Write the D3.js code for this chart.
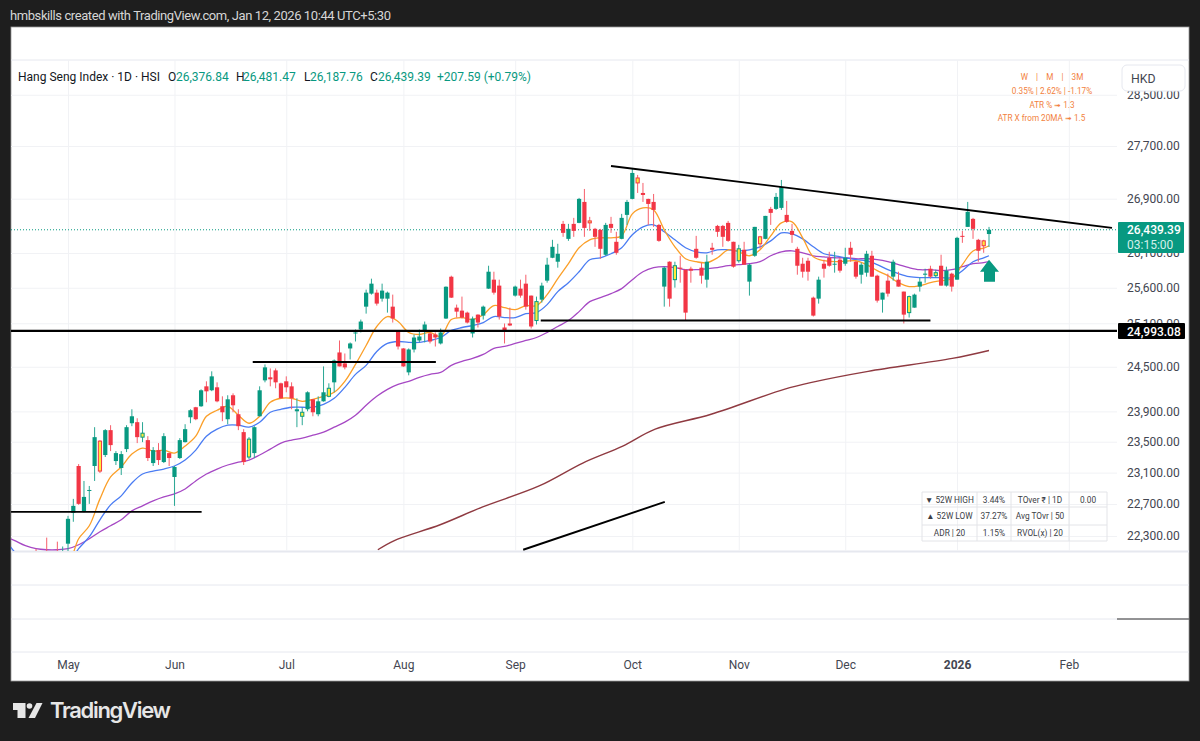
<!DOCTYPE html>
<html>
<head>
<meta charset="utf-8">
<script src="https://cdn.jsdelivr.net/npm/d3@7"></script>
<style>
    html, body { margin: 0; padding: 0; background: #1e1e1e; }
    svg { display: block; }
    text { font-family: Roboto, "Noto Sans", sans-serif; }
</style>
</head>
<body>
<div id="chart"></div>
<script>
'use strict';

// first bar is 10 sessions before May, they sit mostly under the pane
const firstBar = -10;

const opens = [
    21980,21920,21970,21930,21990,21960,22030,21990,22050,21990,
    22205,22589,23185,22602,22866,23185,23508,23327,23652,23249,
    23159,23404,23743,23757,23560,23521,23223,23391,23236,23352,
    23044,23288,23495,23822,23955,23968,24235,24182,24222,23968,
    23796,24115,23862,23626,23301,23352,23835,24316,24357,24451,
    24276,24303,24235,23901,23835,23928,24061,23862,24034,24101,
    24289,24696,24546,24751,24958,25013,25333,25517,25531,25446,
    25446,25333,24985,24751,24424,24737,24861,24985,24958,24944,
    24820,25166,25758,25319,25277,25249,24958,25221,25207,25588,
    25716,25631,25041,25097,25489,25588,25659,25489,25138,25432,
    25702,26031,25974,26526,26306,26526,26541,26852,26570,26453,
    26438,26075,26526,26263,26306,26659,26897,27212,26986,26897,
    26852,26511,25617,25974,25716,25888,25859,25873,26161,25888,
    25716,26176,26496,26496,26541,26263,25988,26147,25688,26060,
    26336,26306,26748,26748,26763,26659,26423,26161,25945,25988,
    25460,25446,25945,26031,25931,26003,25945,26176,25974,25787,
    25816,26060,25773,25432,25702,25759,25716,25546,25249,25319,
    25617,25787,25873,25773,25916,25631,25802,25716,26350,26482,
    26600,26292,26277,26376.84
];
const highs = [
    22060,22010,22080,22050,22140,22060,22280,22090,22230,22170,
    22551,22765,23210,22993,22929,23691,23520,23665,23717,23378,
    23378,23717,23928,23809,23757,23573,23430,23482,23612,23360,
    23185,23547,23730,23928,23960,24195,24303,24438,24289,24101,
    24115,24141,23928,23665,23560,23704,24235,24532,24478,24478,
    24285,24370,24289,24075,23955,24168,24065,24101,24505,24276,
    24600,24861,24682,24834,25013,25152,25574,25730,25574,25659,
    25546,25503,25000,24755,24751,24944,25013,25124,24972,24972,
    25027,25620,25773,25362,25475,25263,25194,25225,25348,25916,
    25830,25716,25097,25319,25631,25716,25787,25490,25475,25673,
    26031,26292,26234,26570,26526,26615,26912,27046,26630,26467,
    26453,26541,26630,26409,26674,26882,27364,27258,27137,26900,
    26971,26526,25902,25980,25974,26060,25865,25902,26350,25960,
    26075,26248,26511,26511,26570,26265,26219,26263,25945,26482,
    26350,26645,26778,26986,27182,26867,26526,26190,26031,26031,
    25475,25759,26003,26118,26118,26031,26176,26263,25988,25960,
    26132,26132,25787,25531,25802,26003,25830,25546,25489,25517,
    25745,25873,25916,25859,26075,25902,25816,26336,26423,26852,
    26615,26306,26292,26481.47
];
const lows = [
    21880,21850,21900,21830,21930,21900,21950,21920,21980,21900,
    22100,22477,22690,22595,22702,22993,23095,23301,23378,23198,
    23069,23365,23704,23482,23495,23249,23185,23198,23223,23185,
    22677,23275,23490,23743,23783,23960,24021,24170,24021,23770,
    23730,23888,23652,23198,23275,23288,23835,24289,24235,24209,
    24070,24155,23928,23691,23717,23901,23835,23835,24030,24088,
    24155,24505,24465,24600,24847,24972,25235,25503,25348,25404,
    25249,25110,24737,24500,24384,24696,24834,24834,24820,24778,
    24806,25160,25455,25180,25166,25097,24902,25041,25152,25584,
    25503,25152,24820,25060,25475,25460,25291,25027,25083,25390,
    25673,26025,25888,26336,26277,26336,26536,26336,26423,26190,
    26017,26060,26394,26075,26300,26511,26890,26986,26852,26511,
    26482,26263,25333,25333,25602,25673,25138,25673,26017,25659,
    25602,26075,26336,26190,26263,25888,25960,25931,25489,26045,
    26161,26300,26511,26733,26733,26541,26248,25787,25745,25702,
    25194,25376,25745,25902,25816,25816,25916,25974,25730,25659,
    25759,25759,25390,25249,25475,25702,25617,25097,25180,25319,
    25546,25673,25730,25745,25631,25617,25546,25716,26248,26482,
    26306,25974,26103,26187.76
];
const closes = [
    21920,21970,21930,21880,21960,22010,21990,22040,22020,22100,
    22514,22677,22702,22790,22878,23560,23120,23652,23456,23352,
    23339,23691,23835,23560,23612,23288,23391,23262,23573,23288,
    23172,23521,23665,23915,23796,24182,24168,24370,24034,23888,
    24061,23981,23704,23236,23534,23691,24182,24492,24330,24289,
    24075,24222,24075,23928,23888,24155,23888,24034,24155,24209,
    24586,24505,24492,24820,24972,25124,25531,25659,25376,25560,
    25531,25166,24778,24505,24737,24902,24916,25083,24847,24902,
    24972,25615,25460,25263,25180,25110,25166,25110,25333,25830,
    25531,25194,25000,25069,25617,25489,25333,25055,25404,25631,
    25931,26190,26089,26394,26453,26423,26897,26467,26541,26336,
    26161,26511,26467,26103,26615,26852,27288,27137,26956,26822,
    26733,26277,25888,25446,25916,25873,25249,25845,26031,25773,
    25974,26147,26409,26336,26277,25902,26161,25931,25931,26482,
    26234,26644,26689,26927,27076,26556,26365,25916,25830,25830,
    25207,25716,25873,25916,25945,25845,26031,26075,25759,25931,
    26089,25759,25418,25531,25517,25974,25617,25221,25475,25503,
    25688,25802,25759,25816,25631,25845,25617,26321,26336,26704,
    26453,26132,26205,26439.39
];
// bars the script paints yellow
const insideBars = [6, 14, 34, 44, 49, 88, 98, 107, 114, 126, 130, 158, 163, 172];

// moving averages, read every second bar (-12, -10, ... 172) plus the last bar
const maBars = [
    -12,-10,-8,-6,-4,-2,0,2,4,6,8,10,12,14,16,18,20,22,24,26,28,30,32,34,36,38,40,42,44,46,48,
    50,52,54,56,58,60,62,64,66,68,70,72,74,76,78,80,82,84,86,88,90,92,94,96,98,100,102,104,
    106,108,110,112,114,116,118,120,122,124,126,128,130,132,134,136,138,140,142,144,146,148,
    150,152,154,156,158,160,162,164,166,168,170,172,173
];
const maFast = [
    22040,22030,22010,21990,21970,21950,21960,22266,22427,22765,23044,23172,23339,23417,23378,23391,23352,
    23443,23573,23835,23915,23968,23849,23743,23835,24021,24075,24075,24034,24061,24101,24155,24303,
    24532,24792,25055,25194,25124,24972,24944,24972,24916,25152,25180,25152,25221,25348,25319,25291,
    25348,25348,25503,25730,25945,26176,26292,26321,26321,26350,26674,26763,26733,26438,26190,26017,
    25974,25960,26031,26147,26118,26060,26147,26350,26541,26556,26321,26045,25988,25974,25980,25988,
    25931,25845,25773,25673,25617,25631,25673,25702,25730,25931,26130,26170,26205
];
const maMid = [
    22270,22100,21960,21840,21780,21840,21950,22143,22291,22502,22689,22803,22967,23082,23120,23146,23185,
    23262,23391,23573,23665,23717,23717,23691,23757,23888,23928,23955,23955,23955,23994,24075,24222,
    24397,24519,24710,24820,24847,24834,24834,24861,24902,25000,25041,25069,25110,25194,25180,25180,
    25235,25249,25362,25546,25673,25830,26003,26031,26089,26176,26365,26482,26511,26409,26292,26176,
    26118,26103,26147,26147,26132,26147,26190,26277,26394,26380,26306,26190,26089,26060,26031,26003,
    25988,25931,25859,25802,25759,25745,25745,25745,25745,25845,25974,26031,26060
];
const maSlow = [
    22300,22242,22180,22143,22130,22130,22143,22192,22266,22353,22427,22502,22614,22677,22740,22790,22828,
    22891,22993,23082,23146,23198,23236,23262,23327,23404,23482,23521,23547,23586,23626,23691,23757,
    23849,23981,24101,24195,24262,24303,24357,24397,24424,24519,24573,24614,24669,24751,24778,24820,
    24861,24902,24972,25055,25138,25263,25404,25460,25517,25588,25716,25830,25888,25902,25888,25859,
    25859,25873,25888,25916,25931,25945,25974,26060,26118,26132,26103,26060,26045,26031,26031,26017,
    26017,26003,25974,25931,25888,25859,25859,25845,25859,25902,25945,25960,25974
];
const maLongBars = [58.2,61.2,69.9,77.9,88.5,96.7,104.2,110.3,120.8,134.5,139.7,150.3,166.1,173];
const maLong = [22130,22241,22440,22664,22929,23223,23443,23665,23862,24195,24289,24438,24614,24723];

// y axis
const priceTicks = [28500,27700,26900,26100,25600,25100,24500,23900,23500,23100,22700,22300];
const lastPrice = 26439.39;
const keyLevel = 24993.08;

// x axis: bar index of each month start
const monthBars = [0, 20, 41, 63, 84, 106, 126, 146, 167, 188];
const monthLabels = ['May', 'Jun', 'Jul', 'Aug', 'Sep', 'Oct', 'Nov', 'Dec', '2026', 'Feb'];

// hand drawn lines: [bar, price, bar, price]
const trendLines = [
    [102, 27394, 196.1, 26467],
    [88.8, 25138, 162, 25138],
    [34.7, 24565, 69.1, 24565],
    [-10.7, 22601, 25.1, 22601],
    [85.5, 22130, 112.1, 22727]
];

const tableRows = [
    ['▼ 52W HIGH', '3.44%', 'TOver ₹ | 1D', '0.00'],
    ['▲ 52W LOW', '37.27%', 'Avg TOvr | 50', ''],
    ['ADR | 20', '1.15%', 'RVOL(x) | 20', '']
];

const width = 1200, height = 741;
const plotLeft = 11, plotRight = 1117, paneRight = 1189;
const plotTop = 60, plotBottom = 551;
const green = '#089981', red = '#f23645', yellow = '#ffeb3b';

const x = d3.scaleLinear().domain([0, 173]).range([68, 989]);
const y = d3.scaleLog().domain([22300, 27700]).range([536, 146]);

const svg = d3.select('#chart').append('svg')
    .attr('width', width)
    .attr('height', height);

svg.append('rect').attr('width', width).attr('height', height).attr('fill', '#1e1e1e');
svg.append('rect')
    .attr('x', plotLeft).attr('y', 27)
    .attr('width', paneRight - plotLeft).attr('height', 654)
    .attr('fill', '#fff')
    .attr('stroke', '#9a9a9a').attr('stroke-width', 0.8);

svg.append('text')
    .attr('x', 10).attr('y', 20)
    .attr('font-size', 13).attr('fill', '#d6d6d6')
    .attr('textLength', 381)
    .text('hmbskills created with TradingView.com, Jan 12, 2026 10:44 UTC+5:30');

svg.append('defs').append('clipPath').attr('id', 'plot-clip')
    .append('rect')
    .attr('x', plotLeft).attr('y', plotTop)
    .attr('width', plotRight - plotLeft).attr('height', plotBottom - plotTop);

// pane separators
svg.append('line')
    .attr('x1', plotLeft).attr('x2', paneRight).attr('y1', plotTop).attr('y2', plotTop)
    .attr('stroke', '#e6e8ef');
[[551.5, 2], [585, 1], [619, 1], [652, 1]].forEach(([py, sw]) => {
    svg.append('line')
        .attr('x1', plotLeft).attr('x2', paneRight).attr('y1', py).attr('y2', py)
        .attr('stroke', '#e6e8ef').attr('stroke-width', sw);
});
svg.append('line')
    .attr('x1', plotRight).attr('x2', paneRight).attr('y1', 619).attr('y2', 619)
    .attr('stroke', '#333');

// axes, their tick lines double as the grid
const xAxis = d3.axisBottom(x)
    .tickValues(monthBars)
    .tickFormat((d, i) => monthLabels[i])
    .tickSize(plotBottom - plotTop)
    .tickPadding(0);

const xAxisGroup = svg.append('g')
    .attr('transform', `translate(0,${plotTop})`)
    .call(xAxis);
xAxisGroup.select('.domain').remove();
xAxisGroup.selectAll('line').attr('stroke', '#f1f2f5');
xAxisGroup.selectAll('text')
    .attr('y', 609)
    .attr('dy', 0)
    .attr('fill', '#434651')
    .attr('font-size', 12)
    .attr('font-weight', d => d === 167 ? 700 : 400)
    .style('font-family', 'Roboto, sans-serif');

const yGrid = svg.append('g')
    .attr('transform', `translate(${plotRight},0)`)
    .call(d3.axisLeft(y).tickValues(priceTicks).tickSize(plotRight - plotLeft).tickFormat(''));
yGrid.select('.domain').remove();
yGrid.selectAll('line').attr('stroke', '#f1f2f5');

const yAxisGroup = svg.append('g')
    .attr('transform', 'translate(1127,0)')
    .call(d3.axisRight(y)
        .tickValues(priceTicks)
        .tickSize(0)
        .tickPadding(0)
        .tickFormat(d3.format(',.2f')));
yAxisGroup.select('.domain').remove();
yAxisGroup.selectAll('text')
    .attr('fill', '#434651')
    .attr('font-size', 12)
    .style('font-family', 'Roboto, sans-serif');

const plot = svg.append('g').attr('clip-path', 'url(#plot-clip)');

// last price line
plot.append('line')
    .attr('x1', plotLeft).attr('x2', plotRight)
    .attr('y1', y(lastPrice)).attr('y2', y(lastPrice))
    .attr('stroke', green)
    .attr('stroke-dasharray', '1 2');

// moving averages
const maLine = d3.line()
    .x(d => x(d[0]))
    .y(d => y(d[1]))
    .curve(d3.curveCatmullRom.alpha(0.5));

[
    [maBars, maSlow, '#a648c4', 1.3],
    [maBars, maMid, '#4a7cf3', 1.3],
    [maBars, maFast, '#fb9f28', 1.3],
    [maLongBars, maLong, '#8f3a41', 1.4]
].forEach(([bars, values, color, lineWidth]) => {
    plot.append('path')
        .datum(d3.zip(bars, values))
        .attr('fill', 'none')
        .attr('stroke', color)
        .attr('stroke-width', lineWidth)
        .attr('d', maLine);
});

// candles
const bars = opens.map((open, i) => ({
    index: i + firstBar,
    open,
    high: highs[i],
    low: lows[i],
    close: closes[i]
}));

const isInside = d => insideBars.includes(d.index);
const barColor = d => d.close >= d.open ? green : red;

const candle = plot.selectAll('.candle')
    .data(bars)
    .join('g')
    .attr('class', 'candle');

candle.append('line')
    .attr('x1', d => x(d.index))
    .attr('x2', d => x(d.index))
    .attr('y1', d => y(d.high))
    .attr('y2', d => y(d.low))
    .attr('stroke', d => d.close >= d.open ? '#2aa794' : '#f65f6b')
    .attr('stroke-width', 1);

candle.append('rect')
    .attr('x', d => x(d.index) - (isInside(d) ? 1.6 : 2.1))
    .attr('width', d => isInside(d) ? 3.2 : 4.2)
    .attr('y', d => y(Math.max(d.open, d.close)))
    .attr('height', d => Math.max(1, Math.abs(y(d.open) - y(d.close))))
    .attr('fill', d => isInside(d) ? yellow : barColor(d))
    .attr('stroke', d => isInside(d) ? barColor(d) : 'none')
    .attr('stroke-width', 1);

// drawn lines
plot.selectAll('.trend')
    .data(trendLines)
    .join('line')
    .attr('class', 'trend')
    .attr('x1', d => x(d[0]))
    .attr('y1', d => y(d[1]))
    .attr('x2', d => x(d[2]))
    .attr('y2', d => y(d[3]))
    .attr('stroke', '#000')
    .attr('stroke-width', 1.9);

plot.append('line')
    .attr('x1', plotLeft).attr('x2', plotRight)
    .attr('y1', y(keyLevel)).attr('y2', y(keyLevel))
    .attr('stroke', '#000')
    .attr('stroke-width', 2.2);

// arrow under the last bar
const ax = x(173), at = y(26003);
svg.append('path')
    .attr('d', `M${ax},${at} L${ax + 10},${at + 12} L${ax + 6},${at + 12} L${ax + 6},${at + 22}
        L${ax - 5},${at + 22} L${ax - 5},${at + 12} L${ax - 9},${at + 12} Z`)
    .attr('fill', green);

// legend line
const legend = svg.append('text').attr('y', 81).attr('font-size', 12);
[
    [18, 'Hang Seng Index · 1D · HSI', '#131722'],
    [168, 'O', '#131722'], [176, '26,376.84', green],
    [236, 'H', '#131722'], [243, '26,481.47', green],
    [304, 'L', '#131722'], [310, '26,187.76', green],
    [370, 'C', '#131722'], [378, '26,439.39', green],
    [437, '+207.59 (+0.79%)', green]
].forEach(([tx, label, color]) => {
    legend.append('tspan')
        .attr('x', tx)
        .attr('fill', color)
        .text(label);
});

// orange stats block
[
    ['W\u00a0\u00a0\u00a0\u00a0|\u00a0\u00a0\u00a0\u00a0M\u00a0\u00a0\u00a0\u00a0|\u00a0\u00a0\u00a0\u00a03M', 1052, 80],
    ['0.35% | 2.62% | -1.17%', 1052, 94],
    ['ATR % ➟ 1.3', 1052, 107.5],
    ['ATR X from 20MA ➟ 1.5', 1041.5, 121]
].forEach(([label, tx, ty]) => {
    svg.append('text')
        .attr('x', tx).attr('y', ty)
        .attr('text-anchor', 'middle')
        .attr('font-size', 8.2)
        .attr('fill', '#f27f3d')
        .text(label);
});

// currency box
svg.append('rect')
    .attr('x', 1122).attr('y', 65).attr('width', 63).attr('height', 26).attr('rx', 5)
    .attr('fill', '#fff').attr('stroke', '#e6e8ef');
svg.append('text')
    .attr('x', 1131).attr('y', 82.5)
    .attr('font-size', 12.3).attr('fill', '#434651')
    .text('HKD');

// price labels
svg.append('rect')
    .attr('x', 1118).attr('y', 222).attr('width', 66).attr('height', 31).attr('rx', 1)
    .attr('fill', green);
svg.append('text')
    .attr('x', 1127).attr('y', 234)
    .attr('font-size', 12).attr('font-weight', 500).attr('fill', '#fff')
    .text('26,439.39');
svg.append('text')
    .attr('x', 1127).attr('y', 249)
    .attr('font-size', 12).attr('fill', '#d4f0ea')
    .text('03:15:00');

svg.append('rect')
    .attr('x', 1118).attr('y', 323).attr('width', 67).attr('height', 16).attr('rx', 1)
    .attr('fill', '#000');
svg.append('text')
    .attr('x', 1127).attr('y', 335.5)
    .attr('font-size', 12).attr('font-weight', 500).attr('fill', '#fff')
    .text(d3.format(',.2f')(keyLevel));

// stats table
const tableColumns = [922, 977, 1011, 1069, 1107];
const tableLines = [492, 507, 525, 541];
const table = svg.append('g');

tableColumns.forEach(cx => {
    table.append('line')
        .attr('x1', cx).attr('x2', cx).attr('y1', 492).attr('y2', 541)
        .attr('stroke', '#e3e4e8');
});
tableLines.forEach(cy => {
    table.append('line')
        .attr('x1', 922).attr('x2', 1107).attr('y1', cy).attr('y2', cy)
        .attr('stroke', '#e3e4e8');
});
tableRows.forEach((row, r) => {
    row.forEach((cell, c) => {
        table.append('text')
            .attr('x', (tableColumns[c] + tableColumns[c + 1]) / 2)
            .attr('y', (tableLines[r] + tableLines[r + 1]) / 2 + 3)
            .attr('text-anchor', 'middle')
            .attr('font-size', 8.3)
            .attr('fill', '#3a3d45')
            .text(cell);
    });
});

// footer logo
const logo = svg.append('g').attr('fill', '#e6e6e6');
logo.append('path').attr('d', 'M13,703 H25.5 V718 H17.5 V710 H13 Z');
logo.append('circle').attr('cx', 29.5).attr('cy', 706).attr('r', 2.8);
logo.append('path').attr('d', 'M36.5,703 H42.5 L35,718 H28.5 Z');
logo.append('text')
    .attr('x', 50).attr('y', 718)
    .attr('font-size', 22).attr('font-weight', 600)
    .attr('textLength', 121)
    .style('font-family', 'Inter, sans-serif')
    .text('TradingView');
</script>
</body>
</html>
